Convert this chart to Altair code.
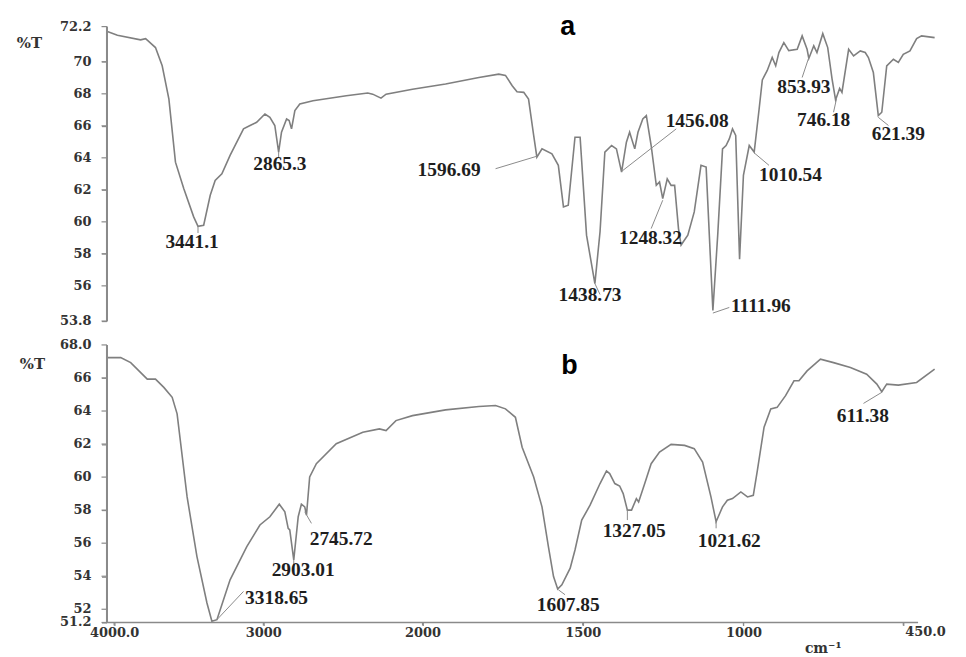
import altair as alt
import pandas as pd

# ---------------- spectrum (a) ----------------
a_wn = [4045, 3978, 3823, 3789, 3723, 3678, 3633, 3589, 3533, 3467,
        3438, 3400, 3356, 3323, 3278, 3223, 3133, 3089, 3045, 2990,
        2959, 2928, 2904, 2886, 2854, 2838, 2823, 2802, 2771, 2688,
        2479, 2344, 2313, 2261, 2229, 2063, 1928, 1824, 1762, 1741,
        1720, 1705, 1684, 1669, 1653, 1643, 1627, 1596, 1576, 1560,
        1545, 1524, 1508, 1488, 1462, 1446, 1431, 1410, 1395, 1379,
        1364, 1354, 1338, 1328, 1313, 1302, 1287, 1271, 1261, 1251,
        1237, 1225, 1214, 1202, 1194, 1173, 1153, 1132, 1116, 1095,
        1080, 1065, 1054, 1044, 1034, 1024, 1012, 1000, 980, 963,
        946, 935, 918, 901, 889, 878, 861, 844, 815, 798,
        781, 775, 758, 747, 727, 710, 695, 683, 669, 661,
        638, 621, 598, 581, 570, 553, 536, 524, 507, 484,
        467, 450, 427, 404, 387, 342]
a_t = [71.89, 71.66, 71.37, 71.45, 70.89, 69.75, 67.67, 63.73, 62.07, 60.31,
       59.72, 59.79, 61.66, 62.59, 63.0, 64.15, 65.81, 66.02, 66.22, 66.74,
       66.53, 66.02, 64.36, 65.6, 66.43, 66.33, 65.81, 66.95, 67.36, 67.57,
       67.88, 68.05, 67.98, 67.73, 67.98, 68.29, 68.61, 69.02, 69.23, 69.15,
       68.51, 68.13, 68.09, 67.67, 65.4, 64.04, 64.56, 64.25, 63.53, 60.93,
       61.04, 65.29, 65.29, 59.17, 56.14, 59.38, 64.36, 64.77, 64.56, 63.11,
       64.98, 65.6, 64.56, 65.6, 66.43, 66.64, 64.77, 62.28, 62.49, 61.45,
       62.69, 62.28, 62.28, 59.58, 58.55, 59.17, 60.62, 63.53, 63.42, 54.46,
       59.17, 64.56, 64.77, 65.18, 65.81, 65.4, 57.67, 62.91, 64.77, 64.36,
       67.05, 68.87, 69.46, 70.27, 69.75, 70.58, 71.2, 70.7, 70.78, 71.62,
       70.78, 70.21, 71.0, 70.58, 71.76, 70.89, 68.92, 67.62, 68.34, 68.09,
       70.78, 70.37, 70.68, 70.58, 70.27, 69.33, 66.64, 66.85, 69.75, 70.16,
       69.96, 70.47, 70.68, 71.45, 71.62, 71.51]

a_lab = ["3441.1", "2865.3", "1596.69", "1456.08", "1248.32", "1438.73",
         "1111.96", "1010.54", "853.93", "746.18", "621.39"]
a_lab_wn = [3478, 2896, 1917, 1144, 1289, 1477, 940, 838, 792, 724, 467]
a_lab_t = [58.76, 63.63, 63.22, 66.33, 58.96, 55.4, 54.77, 62.91, 68.4, 66.39, 65.5]

a_ld_wn1 = [3438, 2904, 1772, 1209, 1287, 1462, 1095, 963, 798, 690, 536]
a_ld_t1 = [59.72, 64.36, 63.32, 65.81, 59.58, 56.14, 54.3, 64.31, 69.02, 66.85, 66.53]
a_ld_wn2 = [3438, 2904, 1643, 1379, 1251, 1446, 1044, 912, 775, 680, 501]
a_ld_t2 = [59.3, 64.0, 64.1, 63.15, 61.35, 55.46, 54.65, 63.53, 70.27, 67.67, 66.02]

# ---------------- spectrum (b) ----------------
b_wn = [4045, 3956, 3889, 3778, 3723, 3667, 3611, 3578, 3511, 3445,
        3378, 3345, 3311, 3267, 3223, 3111, 3023, 2959, 2900, 2865,
        2844, 2834, 2809, 2781, 2761, 2740, 2729, 2709, 2667, 2542,
        2375, 2271, 2229, 2167, 2063, 1928, 1824, 1772, 1741, 1710,
        1689, 1653, 1627, 1607, 1591, 1578, 1565, 1539, 1524, 1503,
        1477, 1446, 1426, 1416, 1400, 1385, 1374, 1361, 1348, 1333,
        1326, 1307, 1287, 1261, 1225, 1183, 1153, 1127, 1101, 1085,
        1065, 1050, 1034, 1008, 986, 966, 952, 929, 906, 884,
        855, 826, 809, 781, 735, 690, 632, 576, 541, 524,
        507, 467, 404, 342]
b_t = [67.23, 67.23, 66.93, 65.93, 65.93, 65.43, 64.83, 63.83, 58.8, 55.19,
       52.38, 51.28, 51.37, 52.58, 53.78, 55.79, 57.1, 57.6, 58.36, 57.9,
       56.9, 56.8, 54.99, 57.6, 58.36, 58.2, 57.7, 60.01, 60.81, 62.02,
       62.72, 62.92, 62.82, 63.42, 63.72, 64.07, 64.27, 64.33, 64.13, 63.62,
       61.81, 60.01, 58.2, 55.79, 53.98, 53.22, 53.48, 54.49, 55.59, 57.4,
       58.3, 59.61, 60.37, 60.21, 59.61, 59.46, 59.0, 58.0, 58.0, 58.7,
       58.5, 59.61, 60.81, 61.51, 61.98, 61.92, 61.72, 60.91, 58.8, 57.3,
       58.2, 58.6, 58.7, 59.1, 58.8, 58.9, 60.41, 63.02, 64.13, 64.22,
       64.93, 65.83, 65.83, 66.43, 67.14, 66.93, 66.63, 66.23, 65.63, 65.17,
       65.63, 65.57, 65.73, 66.54]

b_lab = ["3318.65", "2903.01", "2745.72", "1607.85", "1327.05", "1021.62", "611.38"]
b_lab_wn = [2917, 2750, 2511, 1545, 1340, 1044, 589]
b_lab_t = [52.68, 54.39, 56.23, 52.28, 56.75, 56.15, 63.72]

b_ld_wn1 = [3311, 2809, 2740, 1576, 1361, 1085, 524]
b_ld_t1 = [51.37, 54.99, 57.9, 53.18, 58.0, 57.3, 65.13]
b_ld_wn2 = [3133, 2809, 2698, 1555, 1361, 1085, 587]
b_ld_t2 = [53.08, 54.6, 57.2, 52.88, 57.4, 56.9, 64.46]

# panel letters
panel_txt = ["a", "b"]
panel_wn = [1547, 1541]
panel_t = [71.7, 66.25]

# axes
x_ticks = [4000, 3000, 2000, 1500, 1000, 450]
x_tick_labels = ["4000.0", "3000", "2000", "1500", "1000", "450.0"]
ya_ticks = [53.8, 56, 58, 60, 62, 64, 66, 68, 70, 72.2]
ya_tick_labels = ["53.8", "56", "58", "60", "62", "64", "66", "68", "70", "72.2"]
yb_ticks = [51.2, 52, 54, 56, 58, 60, 62, 64, 66, 68]
yb_tick_labels = ["51.2", "52", "54", "56", "58", "60", "62", "64", "66", "68.0"]
ya_domain = [53.8, 72.2]
yb_domain = [51.2, 68.0]
x_axis_end = 399

# instrument's piecewise wavenumber axis (expanded below 2000 cm-1):
# breakpoints in cm-1 and their position along the axis (0..836)
X_BREAKS = [4051, 4000, 3000, 2000, 1500, 1000, 450, 330]
X_POS = [0, 7.7, 157.7, 317.7, 478.7, 640.3, 801, 836]
W, HA, HB = 836, 296, 279


def seg_expr(field):
    # piecewise-linear interpolation of a wavenumber field onto the axis
    parts = []
    for i in range(len(X_BREAKS) - 1):
        d0, d1, r0, r1 = X_BREAKS[i], X_BREAKS[i + 1], X_POS[i], X_POS[i + 1]
        k = (r1 - r0) / (d0 - d1)
        parts.append((d1, f"({r0} + ({d0} - datum.{field}) * {k:.6f})"))
    expr = parts[-1][1]
    for d1, e in reversed(parts[:-1]):
        expr = f"(datum.{field} >= {d1} ? {e} : {expr})"
    return expr


tick_pos = [X_POS[X_BREAKS.index(v)] for v in x_ticks]
label_expr_x = " : ".join(
    f"abs(datum.value - {p}) < 0.01 ? '{lab}'" for p, lab in zip(tick_pos[:-1], x_tick_labels[:-1])
) + " : ''"

LINE_C = "#7f7f7f"
AX_C = "#8a8a8a"
TXT_C = "#1e1e1e"
AX_TXT = "#333333"
AX_FONT = "DejaVu Serif"
LAB_FONT = "Liberation Serif"

xs = alt.Scale(domain=[0, W], nice=False, zero=False)
ysa = alt.Scale(domain=ya_domain, nice=False, zero=False)
ysb = alt.Scale(domain=yb_domain, nice=False, zero=False)


def y_axis(values, tx, ty):
    return alt.Axis(values=values, labelExpr="''", title="%T", titleAngle=0,
                    titleX=tx, titleY=ty, titleAlign="center", titleBaseline="middle",
                    labelPadding=12, tickSize=5, domainColor=AX_C, domainWidth=2,
                    tickColor=AX_C, labelOverlap=False, labelFlush=False, grid=False)


def y_axis_marks(ticks, labels, domain, ys):
    # axis line and tick marks drawn as field-encoded rules through the scales
    n = len(ticks)
    tdf = pd.DataFrame({"v": ticks, "s": labels, "xa": [-5.0] * n, "xb": [0.5] * n})
    ddf = pd.DataFrame({"xd": [0.5], "lo": [domain[0]], "hi": [domain[1]]})
    dom = alt.Chart(ddf).mark_rule(color=AX_C, strokeWidth=2, clip=False).encode(
        x=alt.X("xd:Q", scale=xs), y=alt.Y("lo:Q", scale=ys), y2="hi:Q")
    tk = alt.Chart(tdf).mark_rule(color=AX_C, strokeWidth=1.2, clip=False).encode(
        x=alt.X("xa:Q", scale=xs), x2="xb:Q", y=alt.Y("v:Q", scale=ys), y2="v:Q")
    lb = alt.Chart(tdf).mark_text(font=AX_FONT, fontSize=13, fontWeight="bold", color=AX_TXT,
                                  align="right", baseline="middle").encode(
        x=alt.value(-15), y=alt.Y("v:Q", scale=ys), text="s:N")
    return [dom, tk, lb]


def panel(wn, t, lab, lab_wn, lab_t, l1w, l1t, l2w, l2t, ys, yaxis, xaxis, letter_idx):
    spec = pd.DataFrame({"wn": wn, "t": t})
    labs = pd.DataFrame({"txt": lab, "wn": lab_wn, "t": lab_t})
    leads = pd.DataFrame({"w1": l1w, "t1": l1t, "w2": l2w, "t2": l2t})
    let = pd.DataFrame({"txt": [panel_txt[letter_idx]], "wn": [panel_wn[letter_idx]],
                        "t": [panel_t[letter_idx]]})

    line = alt.Chart(spec).transform_calculate(xp=seg_expr("wn")).mark_line(
        color=LINE_C, strokeWidth=1.6).encode(
        x=alt.X("xp:Q", scale=xs, axis=xaxis),
        y=alt.Y("t:Q", scale=ys, axis=yaxis),
    )
    rules = alt.Chart(leads).transform_calculate(
        xp1=seg_expr("w1"), xp2=seg_expr("w2")).mark_rule(color="#8a8a8a", strokeWidth=1).encode(
        x=alt.X("xp1:Q", scale=xs), x2="xp2:Q",
        y=alt.Y("t1:Q", scale=ys), y2="t2:Q",
    )
    texts = alt.Chart(labs).transform_calculate(xp=seg_expr("wn")).mark_text(
        font=LAB_FONT, fontSize=19.5, fontWeight="bold",
        color=TXT_C, align="center", baseline="middle").encode(
        x=alt.X("xp:Q", scale=xs),
        y=alt.Y("t:Q", scale=ys),
        text="txt:N",
    )
    letter = alt.Chart(let).transform_calculate(xp=seg_expr("wn")).mark_text(
        font="Liberation Sans", fontSize=27, fontWeight="bold",
        color="#000", align="center", baseline="alphabetic").encode(
        x=alt.X("xp:Q", scale=xs),
        y=alt.Y("t:Q", scale=ys),
        text="txt:N",
    )
    return [line, rules, texts, letter]


top_layers = panel(a_wn, a_t, a_lab, a_lab_wn, a_lab_t, a_ld_wn1, a_ld_t1, a_ld_wn2, a_ld_t2,
                   ysa, y_axis(ya_ticks, -78, 16), None, 0)
top = alt.layer(*top_layers, *y_axis_marks(ya_ticks, ya_tick_labels, ya_domain, ysa)).properties(
    width=W, height=HA)

x_axis = alt.Axis(values=tick_pos, labelExpr=label_expr_x,
                  title="cm⁻¹", titleX=720, titleY=30, titleAlign="center", titleBaseline="alphabetic",
                  titleFontSize=14, labelPadding=1, tickSize=3, tickColor=AX_C, domain=False,
                  grid=False, labelOverlap=False, labelFlush=False)

bot_layers = panel(b_wn, b_t, b_lab, b_lab_wn, b_lab_t, b_ld_wn1, b_ld_t1, b_ld_wn2, b_ld_t2,
                   ysb, y_axis(yb_ticks, -75, 19), x_axis, 1)

tick_len = 3 * (yb_domain[1] - yb_domain[0]) / HB
xt_df = pd.DataFrame({"wn": x_ticks, "s": x_tick_labels,
                      "ya": [yb_domain[0]] * len(x_ticks),
                      "yb": [yb_domain[0] - tick_len] * len(x_ticks)})
x_tick_marks = alt.Chart(xt_df).transform_calculate(xp=seg_expr("wn")).mark_rule(
    color=AX_C, strokeWidth=1.2, clip=False).encode(
    x=alt.X("xp:Q", scale=xs), x2="xp:Q", y=alt.Y("ya:Q", scale=ysb), y2="yb:Q")
x_last_label = alt.Chart(xt_df.tail(1)).transform_calculate(xp=seg_expr("wn")).mark_text(
    font=AX_FONT, fontSize=13, fontWeight="bold", color=AX_TXT, align="left", baseline="top",
    dx=2).encode(
    x=alt.X("xp:Q", scale=xs), y=alt.value(HB + 4), text="s:N")
axis_line = alt.Chart(pd.DataFrame({"w1": [X_BREAKS[0]], "w2": [x_axis_end], "y": [yb_domain[0]]})).transform_calculate(
    xp1=seg_expr("w1"), xp2=seg_expr("w2")).mark_rule(color=AX_C, strokeWidth=1.5).encode(
    x=alt.X("xp1:Q", scale=xs), x2="xp2:Q",
    y=alt.Y("y:Q", scale=ysb),
)
bottom = alt.layer(*bot_layers, axis_line, x_tick_marks, x_last_label,
                   *y_axis_marks(yb_ticks, yb_tick_labels, yb_domain, ysb)).properties(width=W, height=HB)

chart = alt.vconcat(top, bottom, spacing=24, bounds="flush").properties(
    padding={"left": 8, "top": 3, "right": 12, "bottom": 0},
    background="white",
).configure_view(stroke=None).configure_axis(
    domainColor=AX_C, domainWidth=2, tickColor=AX_C, tickWidth=1.2, grid=False,
    labelFont=AX_FONT, labelFontSize=13, labelFontWeight="bold", labelColor=AX_TXT,
    titleFont=AX_FONT, titleFontSize=15, titleFontWeight="bold", titleColor=AX_TXT,
)

chart.save("out.html", embed_options={"renderer": "svg", "actions": False})
